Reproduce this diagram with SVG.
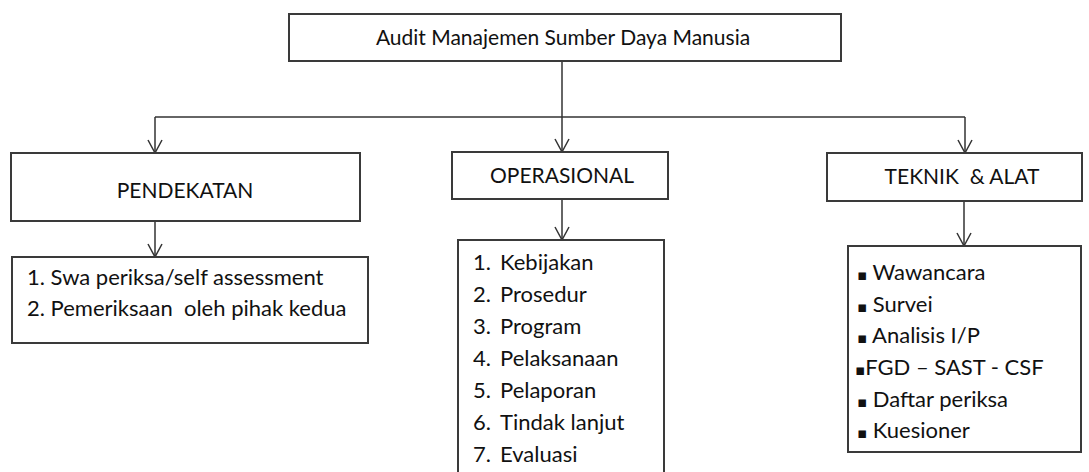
<svg xmlns="http://www.w3.org/2000/svg" width="1089" height="472" viewBox="0 0 1089 472">
  <style>
    .box { fill: #ffffff; stroke: #3a3a3a; stroke-width: 2; }
    .wire { fill: none; stroke: #333333; stroke-width: 1.5; }
    text { font-family: Lato, "Open Sans", sans-serif; fill: #111111; white-space: pre; }
    .head { font-size: 21px; text-anchor: middle; }
    .item { font-size: 22px; }
    .dot { font-family: "DejaVu Sans", sans-serif; font-size: 15px; }
  </style>
  <defs>
    <marker id="vee" markerUnits="userSpaceOnUse" orient="auto" overflow="visible" markerWidth="1" markerHeight="1" refX="0" refY="0">
      <path d="M-13,-7 L0,0 L-13,7" fill="none" stroke="#333333" stroke-width="1.5"/>
    </marker>
  </defs>
  <rect width="1089" height="472" fill="#ffffff"/>

  <!-- connectors -->
  <g id="connectors">
    <path class="wire" d="M155,117 H965"/>
    <path class="wire" d="M562,61 V152" marker-end="url(#vee)"/>
    <path class="wire" d="M155,117 V153" marker-end="url(#vee)"/>
    <path class="wire" d="M965,117 V153" marker-end="url(#vee)"/>
    <path class="wire" d="M155,221 V257" marker-end="url(#vee)"/>
    <path class="wire" d="M562,199 V240" marker-end="url(#vee)"/>
    <path class="wire" d="M964,201 V246" marker-end="url(#vee)"/>
  </g>

  <!-- root -->
  <g id="audit-msdm">
    <rect class="box" x="289" y="14" width="552" height="47"/>
    <text class="head" x="563" y="45">Audit Manajemen Sumber Daya Manusia</text>
  </g>

  <!-- first level -->
  <g id="pendekatan">
    <rect class="box" x="11" y="153" width="349" height="68"/>
    <text class="head" x="185" y="198">PENDEKATAN</text>
  </g>
  <g id="operasional">
    <rect class="box" x="452" y="152" width="216" height="47"/>
    <text class="head" x="562" y="183">OPERASIONAL</text>
  </g>
  <g id="teknik-alat">
    <rect class="box" x="827" y="153" width="255" height="48"/>
    <text class="head" x="962" y="184">TEKNIK  &amp; ALAT</text>
  </g>

  <!-- detail lists -->
  <g id="pendekatan-list">
    <rect class="box" x="12" y="257" width="356" height="86"/>
    <text class="item" x="27" y="285">1. Swa periksa/self assessment</text>
    <text class="item" x="27" y="316">2. Pemeriksaan  oleh pihak kedua</text>
  </g>
  <g id="operasional-list">
    <rect class="box" x="458" y="240" width="206" height="240"/>
    <text class="item" x="473" y="270">1.</text><text class="item" x="500" y="270">Kebijakan</text>
    <text class="item" x="473" y="302">2.</text><text class="item" x="500" y="302">Prosedur</text>
    <text class="item" x="473" y="334">3.</text><text class="item" x="500" y="334">Program</text>
    <text class="item" x="473" y="366">4.</text><text class="item" x="500" y="366">Pelaksanaan</text>
    <text class="item" x="473" y="398">5.</text><text class="item" x="500" y="398">Pelaporan</text>
    <text class="item" x="473" y="430">6.</text><text class="item" x="500" y="430">Tindak lanjut</text>
    <text class="item" x="473" y="462">7.</text><text class="item" x="500" y="462">Evaluasi</text>
  </g>
  <g id="teknik-list">
    <rect class="box" x="848" y="246" width="233" height="206"/>
    <text class="item" x="857" y="280"><tspan class="dot">▪</tspan> Wawancara</text>
    <text class="item" x="857" y="312"><tspan class="dot">▪</tspan> Survei</text>
    <text class="item" x="857" y="343"><tspan class="dot">▪</tspan> Analisis I/P</text>
    <text class="item" x="855" y="375"><tspan class="dot">▪</tspan>FGD – SAST - CSF</text>
    <text class="item" x="857" y="407"><tspan class="dot">▪</tspan> Daftar periksa</text>
    <text class="item" x="857" y="438"><tspan class="dot">▪</tspan> Kuesioner</text>
  </g>
</svg>
